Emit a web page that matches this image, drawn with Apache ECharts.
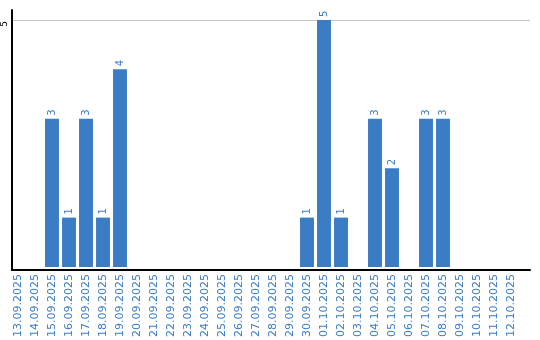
<!DOCTYPE html>
<html><head><meta charset="utf-8">
<script src="https://cdn.jsdelivr.net/npm/echarts@6/dist/echarts.min.js"></script>
<style>html,body{margin:0;padding:0;background:#fff}#c{width:540px;height:340px}</style>
</head><body><div id="c"></div>
<script>
var categories = ["13.09.2025","14.09.2025","15.09.2025","16.09.2025","17.09.2025","18.09.2025","19.09.2025","20.09.2025","21.09.2025","22.09.2025","23.09.2025","24.09.2025","25.09.2025","26.09.2025","27.09.2025","28.09.2025","29.09.2025","30.09.2025","01.10.2025","02.10.2025","03.10.2025","04.10.2025","05.10.2025","06.10.2025","07.10.2025","08.10.2025","09.10.2025","10.10.2025","11.10.2025","12.10.2025"];
var values = [null,null,3,1,3,1,4,null,null,null,null,null,null,null,null,null,null,1,5,1,null,3,2,null,3,3,null,null,null,null];
var yTicks = [5];
var yMax = 5.2;
var blue = '#3b7dc4';
var chart = echarts.init(document.getElementById('c'), null, {renderer:'canvas'});
chart.setOption({
  animation:false,
  grid:[
    {left:9.5,width:510,top:10,bottom:71},
    {left:10,right:10,top:10,bottom:70}
  ],
  xAxis:[
    {type:'category',data:categories,gridIndex:0,
     axisLine:{show:false},axisTick:{show:false},
     axisLabel:{rotate:90,interval:0,color:blue,fontFamily:'DejaVu Sans',fontSize:11,margin:7}},
    {type:'value',gridIndex:1,min:0,max:1,
     axisLine:{show:true,onZero:false,lineStyle:{color:'#000',width:2}},
     axisTick:{show:false},axisLabel:{show:false},splitLine:{show:false}}
  ],
  yAxis:[
    {type:'value',gridIndex:0,min:0,max:yMax,interval:5,show:false,splitLine:{show:false}},
    {type:'value',gridIndex:1,min:0,max:yMax,interval:5,
     axisLine:{show:true,lineStyle:{color:'#000',width:2}},
     axisTick:{show:false},
     splitLine:{show:true,showMinLine:false,showMaxLine:false,lineStyle:{color:'#c8c8c8',width:1}},
     axisLabel:{rotate:90,color:'#000',fontFamily:'DejaVu Sans',fontSize:9,margin:3,padding:[0,8,0,0],
       formatter:function(v){return yTicks.indexOf(v)>=0?String(v):'';}}}
  ],
  series:[{type:'bar',xAxisIndex:0,yAxisIndex:0,data:values,barCategoryGap:'18%',
    itemStyle:{color:blue},
    label:{show:true,position:'top',rotate:90,align:'left',verticalAlign:'middle',distance:3,
      color:blue,fontFamily:'DejaVu Sans',fontSize:10}}]
});
</script></body></html>
